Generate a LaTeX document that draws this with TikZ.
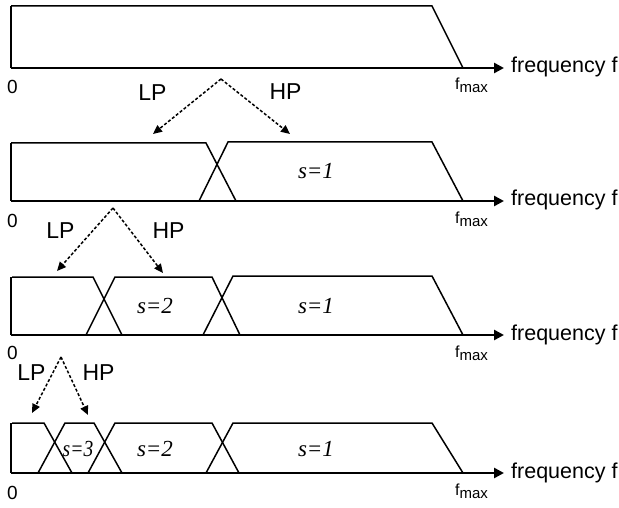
\documentclass[tikz,border=0pt]{standalone}
\usepackage{fontspec}
\setmainfont{Liberation Sans}
\newfontfamily\sfont{Liberation Serif}
\usetikzlibrary{arrows.meta}
\begin{document}
\begin{tikzpicture}[x=1pt,y=-1pt,
  band/.style={line width=1.5pt, line join=miter},
  edge/.style={line width=2.3pt},
  axisline/.style={line width=2.8pt, -{Triangle[length=10pt,width=10pt]}},
  split/.style={line width=1.5pt, dash pattern=on 3pt off 2pt, -{Triangle[length=9pt,width=8pt]}},
  lbl/.style={inner sep=0pt, font=\fontsize{23}{23}\selectfont, anchor=base},
  freq/.style={inner sep=0pt, font=\fontsize{21.5}{21.5}\selectfont, anchor=base west},
  zero/.style={inner sep=0pt, font=\fontsize{19}{19}\selectfont, anchor=base west},
  fmax/.style={inner sep=0pt, font=\fontsize{16}{16}\selectfont, anchor=base west},
  slbl/.style={inner sep=0pt, font=\fontsize{23}{23}\selectfont\sfont\itshape, anchor=base},
]
\useasboundingbox (0,0) rectangle (619,508);

% ---------- row 1 ----------
\coordinate (o1) at (11,68);
\coordinate (e1) at (504,68);
\draw[band] (11,6) -- (432,6) -- (463,68);
\draw[edge] (11,68) -- (11,6);
\draw[axisline] (o1) -- (e1);
\node[zero] (z1) at (7,94) {0};
\node[fmax] (m1) at (455,90) {f\raisebox{-3pt}{\fontsize{15}{15}\selectfont max}};
\node[freq] (f1) at (511,73) {frequency f};

\coordinate (a1) at (221,79);
\coordinate (l1) at (153,134);
\coordinate (h1) at (290,134);
\draw[split] (a1) -- (l1);
\draw[split] (a1) -- (h1);
\node[lbl] (lp1) at (152.5,101) {LP};
\node[lbl] (hp1) at (285.5,100) {HP};

% ---------- row 2 ----------
\coordinate (o2) at (11,201);
\coordinate (e2) at (504,201);
\draw[band] (11,143) -- (206,143) -- (236,201);
\draw[band] (199,201) -- (228,142) -- (432,142) -- (463,201);
\draw[edge] (11,201) -- (11,143);
\draw[axisline] (o2) -- (e2);
\node[zero] (z2) at (7,227) {0};
\node[fmax] (m2) at (455,223) {f\raisebox{-3pt}{\fontsize{15}{15}\selectfont max}};
\node[freq] (f2) at (511,206) {frequency f};
\node[slbl] (s21) at (316,179) {s=1};

\coordinate (a2) at (113,208);
\coordinate (l2) at (57,271);
\coordinate (h2) at (163,273);
\draw[split] (a2) -- (l2);
\draw[split] (a2) -- (h2);
\node[lbl] (lp2) at (60.5,238) {LP};
\node[lbl] (hp2) at (168.5,238) {HP};

% ---------- row 3 ----------
\coordinate (o3) at (11,335);
\coordinate (e3) at (504,335);
\draw[band] (12,277) -- (93,277) -- (122,335);
\draw[band] (86,335) -- (115,277) -- (212,277) -- (240,335);
\draw[band] (203,335) -- (233,276) -- (432,276) -- (463,335);
\draw[edge] (11,335) -- (11,277);
\draw[axisline] (o3) -- (e3);
\node[zero] (z3) at (7,359) {0};
\node[fmax] (m3) at (455,357) {f\raisebox{-3pt}{\fontsize{15}{15}\selectfont max}};
\node[freq] (f3) at (511,340) {frequency f};
\node[slbl] (s32) at (155,313) {s=2};
\node[slbl] (s31) at (316,313) {s=1};

\coordinate (a3) at (61,357);
\coordinate (l3) at (32,413);
\coordinate (h3) at (88,415);
\draw[split] (a3) -- (l3);
\draw[split] (a3) -- (h3);
\node[lbl] (lp3) at (31.5,380) {LP};
\node[lbl] (hp3) at (98.5,380) {HP};

% ---------- row 4 ----------
\coordinate (o4) at (11,473);
\coordinate (e4) at (504,473);
\draw[band] (12,423) -- (44,423) -- (72,473);
\draw[band] (38,473) -- (65,423) -- (94,423) -- (122,473);
\draw[band] (88,473) -- (115,423) -- (212,423) -- (239,473);
\draw[band] (206,473) -- (233,423) -- (432,423) -- (463,473);
\draw[edge] (11,473) -- (11,423);
\draw[axisline] (o4) -- (e4);
\node[zero] (z4) at (7,499) {0};
\node[fmax] (m4) at (455,495) {f\raisebox{-3pt}{\fontsize{15}{15}\selectfont max}};
\node[freq] (f4) at (511,478) {frequency f};
\node[slbl, xscale=0.85] (s43) at (78,456) {s=3};
\node[slbl] (s42) at (155,456) {s=2};
\node[slbl] (s41) at (316,456) {s=1};
\end{tikzpicture}
\end{document}
